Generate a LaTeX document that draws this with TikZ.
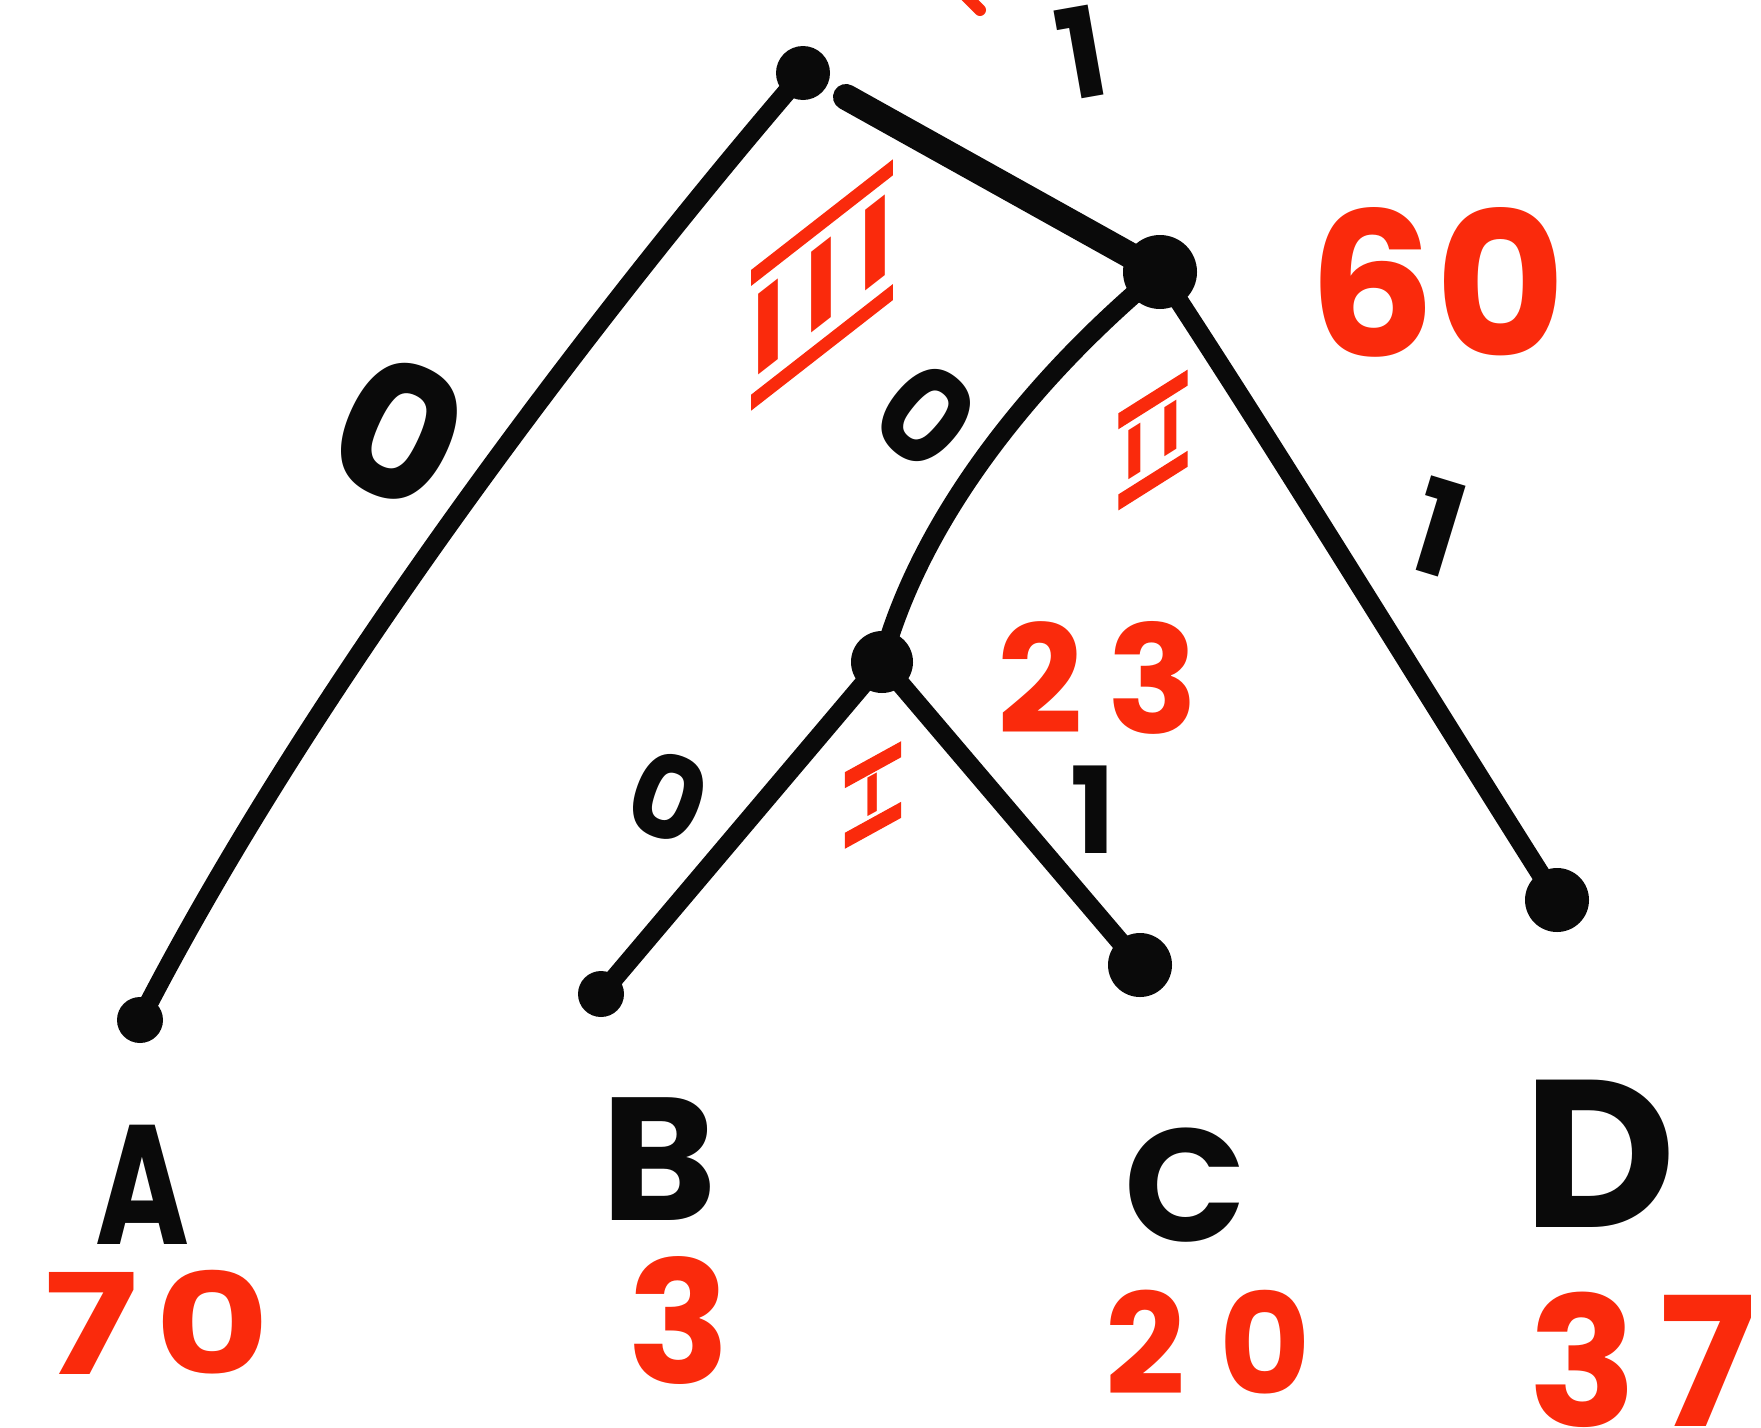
\documentclass[tikz,border=0pt]{standalone}
\usepackage{fontspec}
\setmainfont{Poppins}
\definecolor{ink}{RGB}{10,10,10}
\definecolor{redink}{RGB}{250,42,12}
\newcommand\fs[1]{\fontsize{#1}{#1}\selectfont\bfseries}
\newcommand\rmbar[2]{\vbox{\hrule height 16pt\kern#1\hbox{#2}\kern#1\hrule height 16pt}}
\begin{document}
\begin{tikzpicture}[x=1pt,y=-1pt,
 dot/.style={circle,fill=ink,inner sep=0pt,minimum size=#1},
 edge/.style={draw=ink,line width=19pt,line cap=round},
 lab/.style={inner sep=0pt,text=ink},
 wgt/.style={inner sep=0pt,text=redink}]
\useasboundingbox[fill=white] (0,0) rectangle (1761,1427);
% tree nodes
\node[dot=54pt] (R) at (803,73) {};
\node[dot=74pt] (N60) at (1160,272) {};
\node[dot=62pt] (N23) at (882,662) {};
\node[dot=46pt] (A) at (140,1020) {};
\node[dot=46pt] (B) at (601,994) {};
\node[dot=64pt] (C) at (1140,965) {};
\node[dot=64pt] (D) at (1557,900) {};
% edges
\draw[edge] (R.center) .. controls (650,250) and (330,650) .. (A.center);
\draw[edge,line width=26pt,shorten <=22pt] (R) -- (N60.center);
\draw[edge] (N60.center) .. controls (1030,380) and (920,520) .. (N23.center);
\draw[edge] (N60.center) .. controls (1290,470) and (1430,700) .. (D.center);
\draw[edge,shorten >=14pt] (N23.center) -- (B.center);
\draw[edge] (N23.center) -- (C.center);
% edge labels
\node[lab,rotate=10,font=\fs{125}] (e1a) at (1082,52) {1};
\node[lab,rotate=-25,font=\fs{185}] (e0a) at (399,432) {0};
\node[lab,rotate=-40,font=\fs{130}] (e0b) at (926,416) {0};
\node[lab,rotate=-17,font=\fs{130}] (e1b) at (1438,527) {1};
\node[lab,rotate=-20,font=\fs{115}] (e0c) at (668,797) {0};
\node[lab,rotate=0,font=\fs{120}] (e1c) at (1093,810) {1};
% merge order and weights
\node[wgt,yslant=0.78,font=\fs{115}] (w3) at (822,285) {\rmbar{14pt}{I\hspace{20pt}I\hspace{20pt}I}};
\node[wgt,yslant=0.63,font=\fs{70}] (w2) at (1153,440) {\rmbar{8pt}{\hspace{6pt}I\hspace{16pt}I\hspace{6pt}}};
\node[wgt,yslant=0.55,font=\fs{55}] (w1) at (873,795) {\rmbar{3pt}{\hspace{20pt}I\hspace{20pt}}};
\node[wgt,font=\fs{200}] (w60) at (1437,282) {60};
\node[wgt,font=\fs{150}] (w23) at (1098,678) {2\hspace{25pt}3};
% leaves
\node[lab,font=\fs{170},xscale=0.75] (tA) at (142,1185) {A};
\node[lab,font=\fs{175}] (tB) at (659,1159) {B};
\node[lab,font=\fs{160}] (tC) at (1185,1185) {C};
\node[lab,font=\fs{210}] (tD) at (1600,1154) {D};
\node[wgt,font=\fs{140},xscale=1.25] (n70) at (157,1322) {7\hspace{14pt}0};
\node[wgt,font=\fs{170}] (n3) at (679,1320) {3};
\node[wgt,font=\fs{140}] (n20) at (1208,1342) {2\hspace{34pt}0};
\node[wgt,font=\fs{180}] (n37) at (1642,1360) {3\hspace{22pt}7};
\draw[redink,line width=12pt,line cap=round] (966,-4) -- (980,10);
\end{tikzpicture}
\end{document}
